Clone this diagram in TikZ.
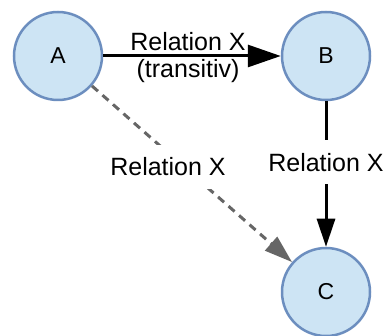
\documentclass[tikz,border=0pt]{standalone}
\usepackage{fontspec}
\setmainfont{Liberation Sans}
\usetikzlibrary{arrows.meta}

\definecolor{nodefill}{HTML}{CDE4F4}
\definecolor{nodeline}{HTML}{6C8EBF}
\definecolor{dashgray}{HTML}{666666}

\begin{document}
\begin{tikzpicture}[x=1pt, y=1pt, thick,
    main/.style = {draw=nodeline, fill=nodefill, circle, line width=2.5pt,
                   minimum size=88pt, inner sep=0pt, font=\fontsize{23}{26}\selectfont},
    link/.style = {line width=3pt},
    rel/.style  = {fill=white, text=black, minimum height=44pt, inner xsep=2pt,
                   font=\fontsize{25}{28}\selectfont}]
        \useasboundingbox (0,0) rectangle (390,-336);
        \node[main] (A) at (58,-56)                    {A};
        \node[main] (B) [right of=A, node distance=268pt] {B};
        \node[main] (C) [below of=B, node distance=236pt] {C};
        \draw[link, -{Triangle[length=33pt, width=22pt]}] (A) -- node[xshift=-4pt, yshift=-2pt, align=center,
            font=\fontsize{25}{27}\selectfont] {Relation X\\(transitiv)} (B);
        \draw[link, -{Triangle[length=28pt, width=18pt]}] (B) -- node[rel, pos=0.42] {Relation X} (C);
        \draw[link, dashgray, dash pattern=on 8pt off 6pt, -{Triangle[length=28pt, width=18pt]}]
            (A) -- node[rel, pos=0.46, xshift=-16pt] {Relation X} (C);
    \end{tikzpicture}
\end{document}
